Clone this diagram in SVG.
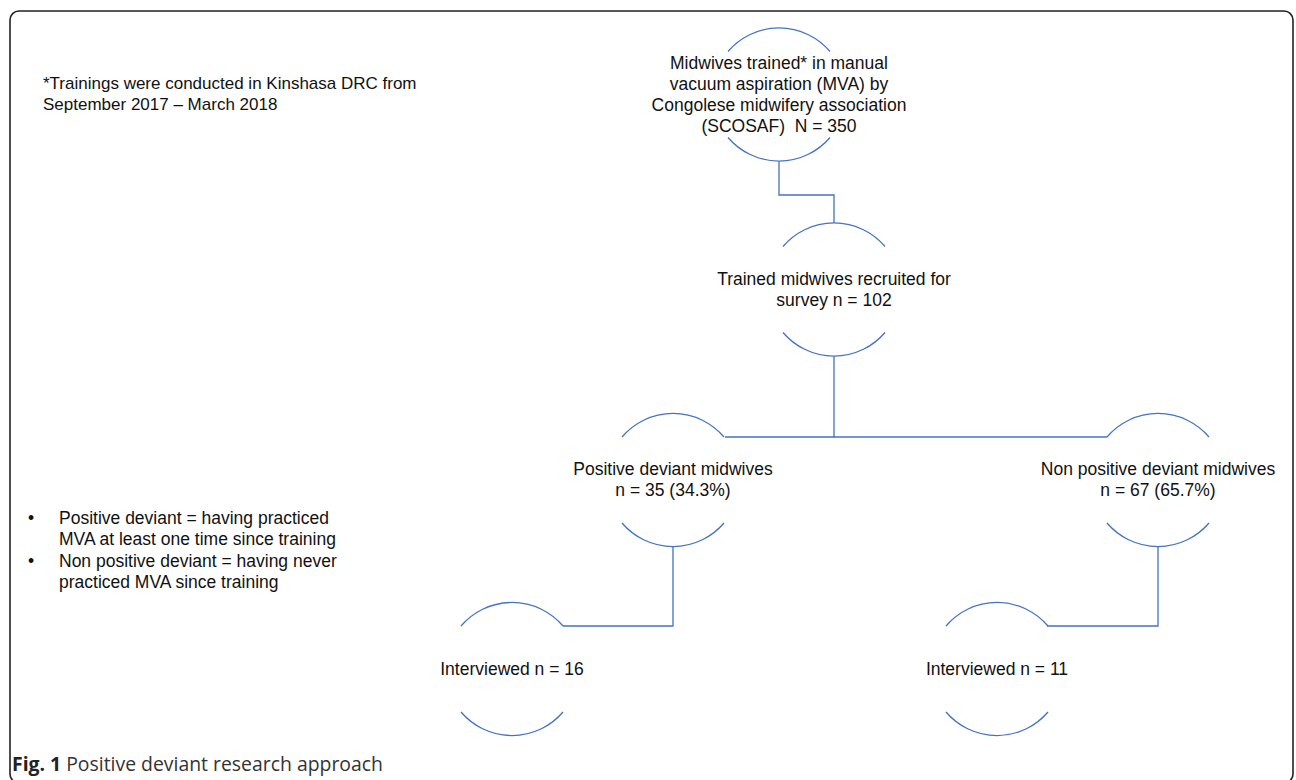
<svg xmlns="http://www.w3.org/2000/svg" width="1296" height="780" viewBox="0 0 1296 780">
<style>
.arc{fill:none;stroke:#4472C4;stroke-width:1.3}
.con{fill:none;stroke:#4472C4;stroke-width:1.3}
.t{font-family:"Liberation Sans",Arial,sans-serif;font-size:17.5px;fill:#111}
.m{text-anchor:middle}
.n{font-size:17px}
.cap{font-family:"Open Sans","Liberation Sans",sans-serif;font-size:19.4px;fill:#333}
</style>
<rect x="10" y="11" width="1283" height="772" rx="9" ry="9" fill="#fff" stroke="#222" stroke-width="1.6"/>
<g id="connectors">
<path class="con" d="M779,161.5 V195 H834 V223"/>
<path class="con" d="M834,356 V437 H725"/>
<path class="con" d="M834,437 H1107"/>
<path class="con" d="M673,546.5 V626 H563"/>
<path class="con" d="M1158,546.5 V626 H1047"/>
</g>
<g id="node1">
<path class="arc" d="M728,51.5 A67,67 0 0 1 830,51.5"/>
<path class="arc" d="M728,137.5 A67,67 0 0 0 830,137.5"/>
<text class="t m" x="779" y="69">Midwives trained* in manual</text>
<text class="t m" x="779" y="90">vacuum aspiration (MVA) by</text>
<text class="t m" x="779" y="111">Congolese midwifery association</text>
<text class="t m" x="779" y="132">(SCOSAF)&#160; N = 350</text>
</g>
<g id="node2">
<path class="arc" d="M783,246.5 A67,67 0 0 1 885,246.5"/>
<path class="arc" d="M783,332.5 A67,67 0 0 0 885,332.5"/>
<text class="t m" x="834" y="285">Trained midwives recruited for</text>
<text class="t m" x="834" y="306">survey n = 102</text>
</g>
<g id="node3">
<path class="arc" d="M622,437 A67,67 0 0 1 724,437"/>
<path class="arc" d="M622,523 A67,67 0 0 0 724,523"/>
<text class="t m" x="673" y="475">Positive deviant midwives</text>
<text class="t m" x="673" y="496">n = 35 (34.3%)</text>
</g>
<g id="node4">
<path class="arc" d="M1107,437 A67,67 0 0 1 1209,437"/>
<path class="arc" d="M1107,523 A67,67 0 0 0 1209,523"/>
<text class="t m" x="1158" y="475">Non positive deviant midwives</text>
<text class="t m" x="1158" y="496">n = 67 (65.7%)</text>
</g>
<g id="node5">
<path class="arc" d="M461,626 A67,67 0 0 1 563,626"/>
<path class="arc" d="M461,712 A67,67 0 0 0 563,712"/>
<text class="t m" x="512" y="675">Interviewed n = 16</text>
</g>
<g id="node6">
<path class="arc" d="M946,626 A67,67 0 0 1 1048,626"/>
<path class="arc" d="M946,712 A67,67 0 0 0 1048,712"/>
<text class="t m" x="997" y="675">Interviewed n = 11</text>
</g>
<g id="note">
<text class="t n" x="43" y="89">*Trainings were conducted in Kinshasa DRC from</text>
<text class="t n" x="43" y="110">September 2017 – March 2018</text>
</g>
<g id="definitions">
<text class="t" x="28" y="524">•</text>
<text class="t" x="59" y="524">Positive deviant = having practiced</text>
<text class="t" x="59" y="545">MVA at least one time since training</text>
<text class="t" x="28" y="567">•</text>
<text class="t" x="59" y="567">Non positive deviant = having never</text>
<text class="t" x="59" y="588">practiced MVA since training</text>
</g>
<g id="caption">
<text class="cap" x="12" y="771"><tspan font-weight="bold" fill="#222">Fig. 1</tspan> Positive deviant research approach</text>
</g>
</svg>
